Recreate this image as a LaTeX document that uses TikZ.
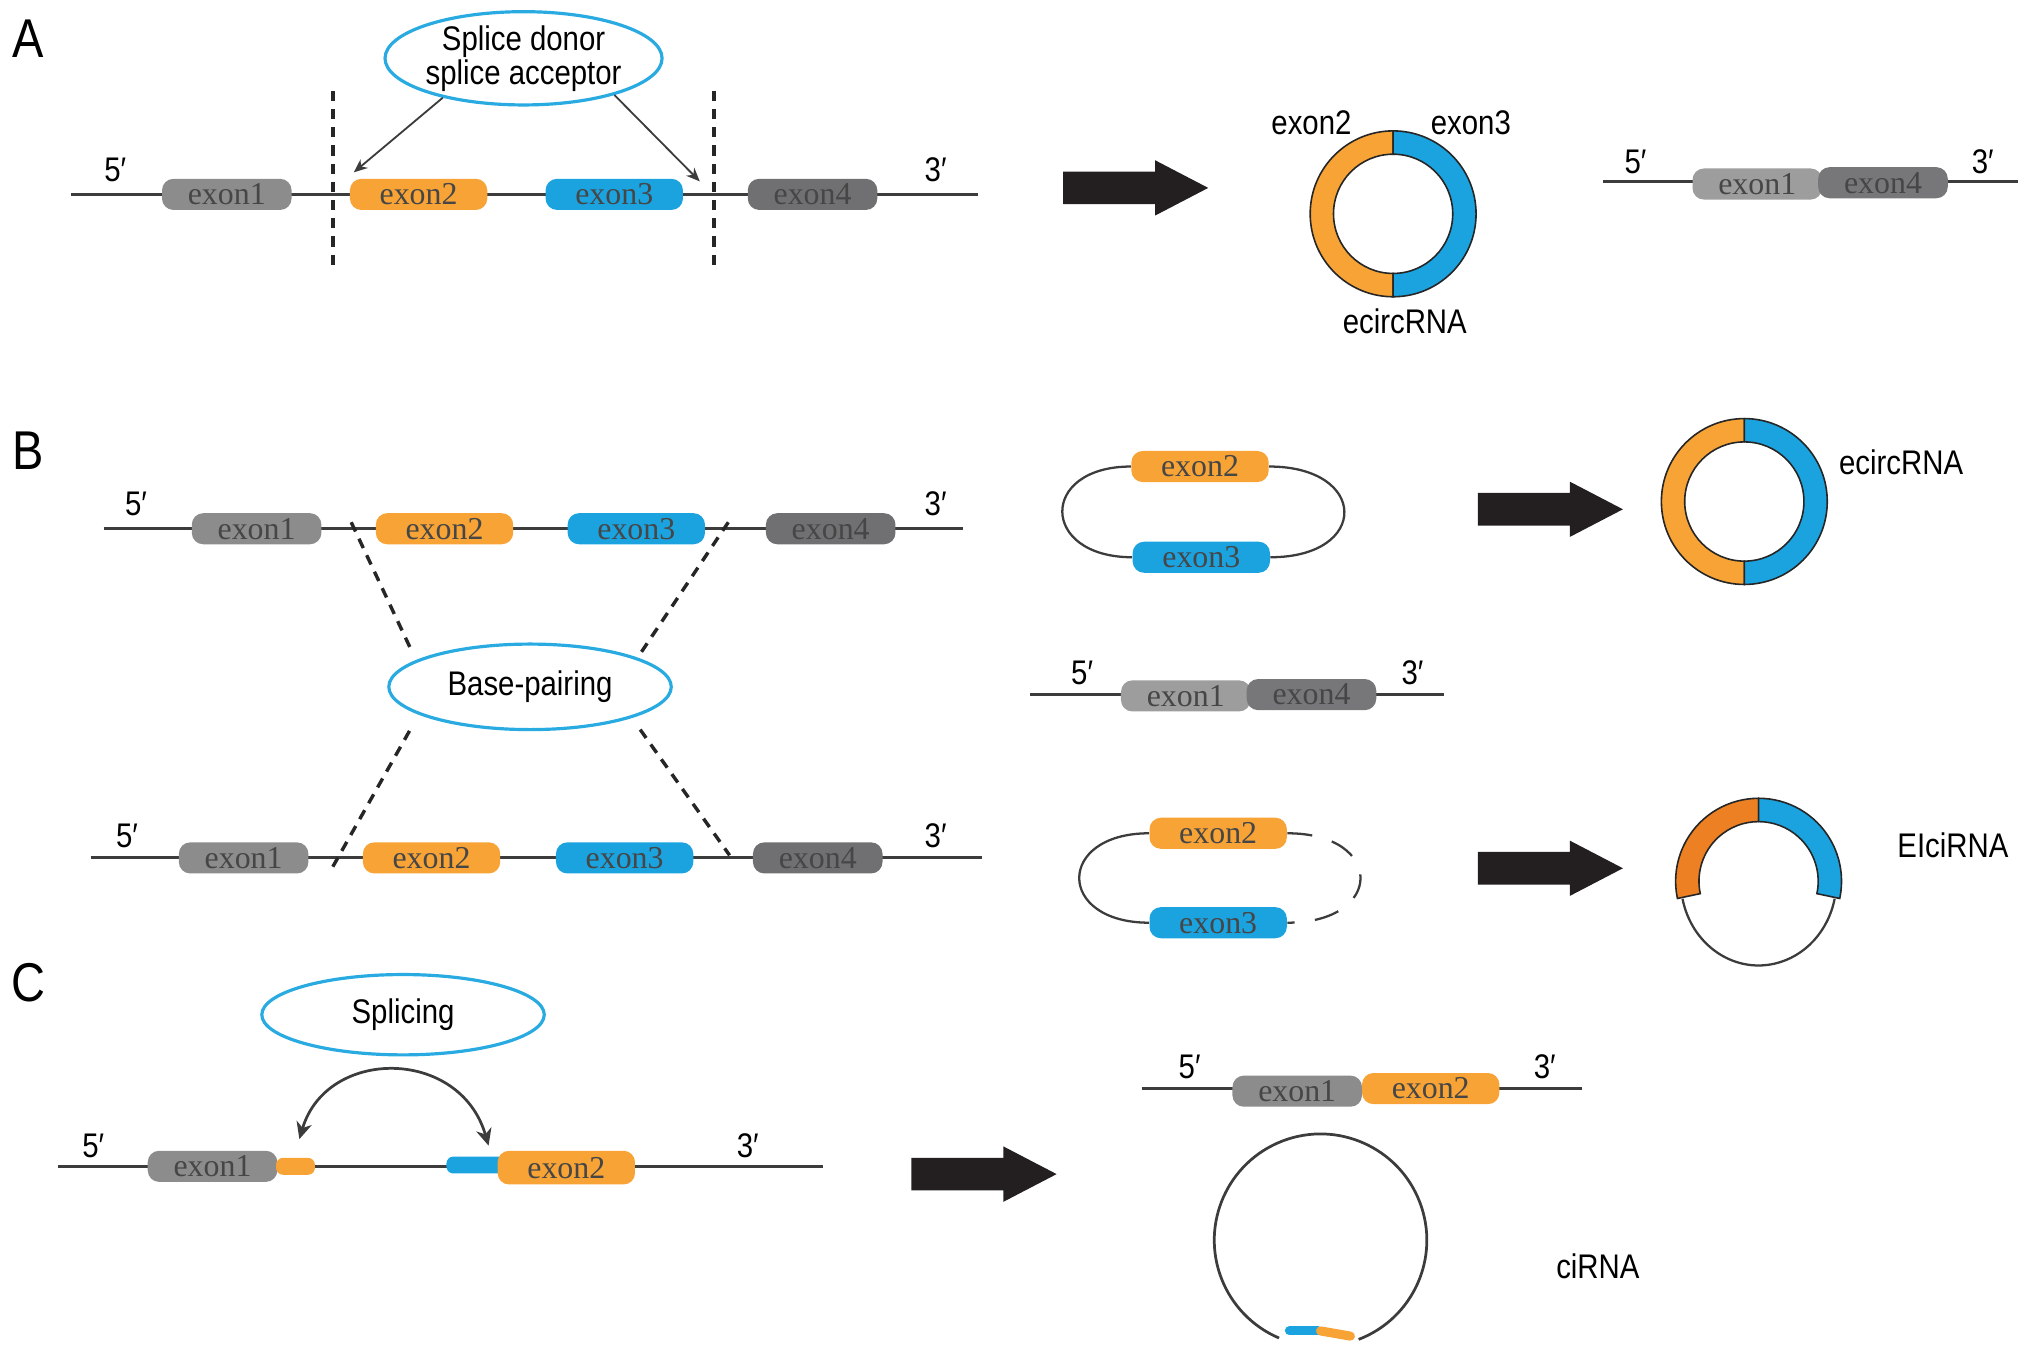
\documentclass[tikz,border=0pt]{standalone}
\usepackage{fontspec}
\setmainfont{Liberation Sans}[FakeStretch=0.86]
\newfontfamily\exonfont{Liberation Serif}
\usepackage{tikz}
\usetikzlibrary{shapes.geometric, shapes.arrows, arrows.meta, positioning}

\definecolor{exgray}{RGB}{140,140,140}
\definecolor{exdark}{RGB}{112,112,114}
\definecolor{exorange}{RGB}{247,163,54}
\definecolor{exblue}{RGB}{27,163,224}
\definecolor{eiorange}{RGB}{236,128,34}
\definecolor{ovalblue}{RGB}{41,171,226}
\definecolor{rnagray}{RGB}{60,60,60}
\definecolor{arrowblack}{RGB}{35,31,32}
\definecolor{labelgray}{RGB}{70,70,70}

\begin{document}
\begin{tikzpicture}[x=0.02cm, y=0.02cm,
  rna/.style={draw=rnagray, line width=1.3pt},
  thinrna/.style={draw=rnagray, line width=1pt},
  exon/.style={rounded corners=5pt, minimum width=2cm, minimum height=0.48cm, inner sep=0pt, font=\exonfont\fontsize{14}{14}\selectfont, text=labelgray},
  ex1/.style={exon, fill=exgray},
  ex4/.style={exon, fill=exdark},
  ex2/.style={exon, fill=exorange, minimum width=2.12cm},
  ex3/.style={exon, fill=exblue, minimum width=2.12cm},
  oval/.style={ellipse, draw=ovalblue, line width=1.4pt, inner sep=0pt, font=\fontsize{15}{13}\selectfont, align=center},
  lbl/.style={font=\fontsize{15}{15}\selectfont},
  panel/.style={font=\fontsize{24}{24}\selectfont},
  cut/.style={draw=black!85, line width=1.5pt, dash pattern=on 4.5pt off 3.5pt},
  bigarrow/.style={single arrow, fill=arrowblack, minimum height=2.24cm, minimum width=0.84cm, single arrow head extend=0.175cm, single arrow tip angle=55, inner xsep=0pt, inner ysep=0.245cm, anchor=tail},
  ring/.style={draw=black!85, line width=0.7pt}]
  \useasboundingbox (0,0) rectangle (1568,-1044);

  % A: exon circularization
  \node[panel] (labA) at (22,-30) {A};
  \node[oval, minimum width=4.16cm, minimum height=1.4cm] (donor) at (404,-45) {Splice donor\\splice acceptor};
  \coordinate (a5) at (55,-150);
  \coordinate (a3) at (755,-150);
  \draw[rna] (a5) -- (a3);
  \coordinate (cutL1) at (257,-70);
  \coordinate (cutL2) at (257,-207);
  \coordinate (cutR1) at (551,-70);
  \coordinate (cutR2) at (551,-207);
  \draw[cut] (cutL1) -- (cutL2);
  \draw[cut] (cutR1) -- (cutR2);
  \node[ex1] (aex1) at (175,-150) {exon1};
  \node[ex2] (aex2) at (323,-150) {exon2};
  \node[ex3] (aex3) at (474,-150) {exon3};
  \node[ex4] (aex4) at (627,-150) {exon4};
  \node[lbl] (a5l) at (89,-131) {5′};
  \node[lbl] (a3l) at (722,-131) {3′};
  \coordinate (sd) at (273,-133);
  \coordinate (sa) at (540,-140);
  \draw[thinrna, line width=0.8pt, -{Stealth[length=6pt, width=5pt]}] (donor.206) -- (sd);
  \draw[thinrna, line width=0.8pt, -{Stealth[length=6pt, width=5pt]}] (donor.338) -- (sa);

  \node[bigarrow] (arrA) at (820,-145) {};

  \filldraw[ring, fill=exorange] (1075,-165) ++(90:64) arc[start angle=90, end angle=270, radius=64] -- ++(90:18) arc[start angle=270, end angle=90, radius=46] -- cycle;
  \filldraw[ring, fill=exblue] (1075,-165) ++(90:64) arc[start angle=90, end angle=-90, radius=64] -- ++(90:18) arc[start angle=-90, end angle=90, radius=46] -- cycle;
  \node[lbl] (ringA2) at (1012,-95) {exon2};
  \node[lbl] (ringA3) at (1135,-95) {exon3};
  \node[lbl] (ringA) at (1084,-248) {ecircRNA};

  \coordinate (al5) at (1237,-140);
  \coordinate (al3) at (1557,-140);
  \draw[rna] (al5) -- (al3);
  \node[ex1, fill=exgray!85] (alex1) at (1356,-142) {exon1};
  \node[ex4, fill=exdark!95] (alex4) at (1453,-141) {exon4};
  \node[lbl] (al5l) at (1262,-125) {5′};
  \node[lbl] (al3l) at (1530,-125) {3′};

  % B: intron pairing-driven circularization
  \node[panel] (labB) at (22,-348) {B};
  \coordinate (bt5) at (80,-408);
  \coordinate (bt3) at (743,-408);
  \draw[rna] (bt5) -- (bt3);
  \coordinate (bb5) at (70,-662);
  \coordinate (bb3) at (758,-662);
  \draw[rna] (bb5) -- (bb3);
  \node[oval, minimum width=4.36cm, minimum height=1.32cm] (pairing) at (409,-530) {Base-pairing};
  \coordinate (pt1) at (271,-403);
  \coordinate (pt2) at (318,-503);
  \coordinate (pt3) at (562,-403);
  \coordinate (pt4) at (493,-506);
  \coordinate (pb1) at (316,-564);
  \coordinate (pb2) at (255,-672);
  \coordinate (pb3) at (494,-563);
  \coordinate (pb4) at (563,-660);
  \draw[cut] (pt1) -- (pt2);
  \draw[cut] (pt3) -- (pt4);
  \draw[cut] (pb1) -- (pb2);
  \draw[cut] (pb3) -- (pb4);
  \node[ex1] (btex1) at (198,-408) {exon1};
  \node[ex2] (btex2) at (343,-408) {exon2};
  \node[ex3] (btex3) at (491,-408) {exon3};
  \node[ex4] (btex4) at (641,-408) {exon4};
  \node[lbl] (bt5l) at (105,-389) {5′};
  \node[lbl] (bt3l) at (722,-389) {3′};
  \node[ex1] (bbex1) at (188,-662) {exon1};
  \node[ex2] (bbex2) at (333,-662) {exon2};
  \node[ex3] (bbex3) at (482,-662) {exon3};
  \node[ex4] (bbex4) at (631,-662) {exon4};
  \node[lbl] (bb5l) at (98,-645) {5′};
  \node[lbl] (bb3l) at (722,-645) {3′};

  % B: loops
  \node[ex2] (lex2) at (926,-360) {exon2};
  \node[ex3] (lex3) at (927,-430) {exon3};
  \draw[thinrna] (lex2.west) to[out=180, in=180, looseness=2.6] (lex3.west);
  \draw[thinrna] (lex2.east) to[out=0, in=0, looseness=2.8] (lex3.east);
  \node[bigarrow] (arrB1) at (1140,-393) {};
  \filldraw[ring, fill=exorange] (1346,-387) ++(90:64) arc[start angle=90, end angle=270, radius=64] -- ++(90:18) arc[start angle=270, end angle=90, radius=46] -- cycle;
  \filldraw[ring, fill=exblue] (1346,-387) ++(90:64) arc[start angle=90, end angle=-90, radius=64] -- ++(90:18) arc[start angle=-90, end angle=90, radius=46] -- cycle;
  \node[lbl] (ringB) at (1467,-357) {ecircRNA};

  \coordinate (bl5) at (795,-536);
  \coordinate (bl3) at (1114,-536);
  \draw[rna] (bl5) -- (bl3);
  \node[ex1, fill=exgray!85] (blex1) at (915,-537) {exon1};
  \node[ex4, fill=exdark!95] (blex4) at (1012,-536) {exon4};
  \node[lbl] (bl5l) at (835,-519) {5′};
  \node[lbl] (bl3l) at (1090,-519) {3′};

  \node[ex2] (mex2) at (940,-643) {exon2};
  \node[ex3] (mex3) at (940,-712) {exon3};
  \draw[thinrna] (mex2.west) to[out=180, in=180, looseness=2.67] (mex3.west);
  \draw[thinrna, dash pattern=on 11pt off 9pt] (mex2.east) to[out=0, in=0, looseness=2.8] (mex3.east);
  \node[bigarrow] (arrB2) at (1140,-670) {};
  \filldraw[ring, fill=eiorange] (1357,-680) ++(90:64) arc[start angle=90, end angle=192, radius=64] -- ++(12:18) arc[start angle=192, end angle=90, radius=46] -- cycle;
  \filldraw[ring, fill=exblue] (1357,-680) ++(90:64) arc[start angle=90, end angle=-12, radius=64] -- ++(168:18) arc[start angle=-12, end angle=90, radius=46] -- cycle;
  \draw[thinrna] (1357,-680) ++(192:60 and 65) arc[start angle=192, end angle=348, x radius=60, y radius=65];
  \node[lbl] (ringEI) at (1507,-652) {EIciRNA};

  % C: intronic circularization
  \node[panel] (labC) at (22,-758) {C};
  \node[oval, minimum width=4.36cm, minimum height=1.24cm] (splicing) at (311,-783) {Splicing};
  \coordinate (c5) at (45,-900);
  \coordinate (c3) at (635,-900);
  \draw[rna] (c5) -- (c3);
  \node[ex1] (cex1) at (164,-900) {exon1};
  \node[fill=exorange, rounded corners=3pt, minimum width=0.6cm, minimum height=0.26cm, inner sep=0pt] (cs2) at (228,-900) {};
  \node[fill=exblue, rounded corners=3pt, minimum width=0.94cm, minimum height=0.26cm, inner sep=0pt] (cs3) at (368,-899) {};
  \node[ex2, minimum height=0.52cm] (cex2) at (437,-901) {exon2};
  \node[lbl] (c5l) at (72,-884) {5′};
  \node[lbl] (c3l) at (577,-884) {3′};
  \coordinate (splL) at (231,-879);
  \coordinate (splR) at (377,-884);
  \draw[thinrna, line width=1.2pt, {Stealth[length=0.26cm, width=0.24cm, inset=0.08cm]}-{Stealth[length=0.26cm, width=0.24cm, inset=0.08cm]}] (splL) .. controls (252,-808) and (355,-808) .. (splR);

  \node[bigarrow] (arrC) at (703,-906) {};

  \coordinate (cl5) at (881,-840);
  \coordinate (cl3) at (1221,-840);
  \draw[rna] (cl5) -- (cl3);
  \node[ex1] (clex1) at (1001,-842) {exon1};
  \node[ex2] (clex2) at (1104,-840) {exon2};
  \node[lbl] (cl5l) at (918,-823) {5′};
  \node[lbl] (cl3l) at (1192,-823) {3′};

  \draw[thinrna, line width=1.2pt] (1019,-957) ++(291:82) arc[start angle=291, end angle=607, radius=82];
  \draw[exblue, line width=4pt, line cap=round] (995,-1027) -- (1017,-1027);
  \draw[exorange, line width=4pt, line cap=round] (1019,-1027) -- (1042,-1031);
  \node[lbl] (ciRNA) at (1233,-977) {ciRNA};
\end{tikzpicture}
\end{document}
